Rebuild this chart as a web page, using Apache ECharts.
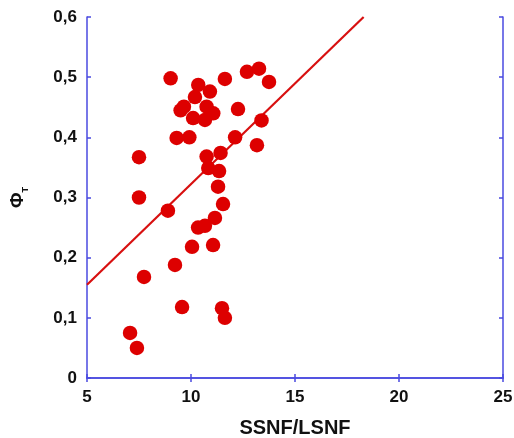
<!DOCTYPE html>
<html><head><meta charset="utf-8">
<script src="https://cdn.jsdelivr.net/npm/echarts@6/dist/echarts.min.js"></script>
<style>html,body{margin:0;padding:0;background:#fff}#c{width:514px;height:438px}</style>
</head><body><div id="c"></div>
<script>
// Data
var ratioX = [9.02,10.35,10.91,11.63,12.69,13.27,13.75,9.66,9.50,10.19,10.75,11.07,10.10,10.67,12.26,9.31,9.92,12.12,13.39,13.17,7.50,10.75,11.42,10.83,11.35,11.30,7.50,11.54,8.89,11.15,10.34,10.67,10.05,11.06,9.23,7.74,9.57,11.49,11.63,7.07,7.40];
var phiT   = [0.498,0.487,0.476,0.497,0.509,0.514,0.492,0.451,0.445,0.467,0.451,0.440,0.432,0.429,0.447,0.399,0.400,0.400,0.428,0.387,0.367,0.368,0.374,0.349,0.344,0.318,0.300,0.289,0.278,0.266,0.250,0.253,0.218,0.221,0.188,0.168,0.118,0.116,0.100,0.075,0.050];
var fitX = [5, 18.3];
var fitY = [0.155, 0.6];
var xTicks = [5,10,15,20,25];
var yTicks = ['0','0,1','0,2','0,3','0,4','0,5','0,6'];

var pts = ratioX.map(function(x,i){return [x, phiT[i]];});
var fit = fitX.map(function(x,i){return [x, fitY[i]];});
var axisCol = '#4a4ae0';
var font = '"Liberation Sans", Arial, sans-serif';
var chart = echarts.init(document.getElementById('c'), null, {renderer:'canvas'});
chart.setOption({
  animation:false,
  backgroundColor:'#fff',
  grid:{left:87, right:11, top:17, bottom:60, containLabel:false, outerBoundsMode:'none'},
  xAxis:[{
    type:'value', min:5, max:25, interval:5, position:'bottom',
    axisLine:{lineStyle:{color:axisCol,width:1.5}},
    axisTick:{inside:true,length:4,lineStyle:{color:axisCol,width:1.5}},
    splitLine:{show:false},
    axisLabel:{color:'#111',fontWeight:'bold',fontSize:17,fontFamily:font,margin:11,
      formatter:function(v){return xTicks.indexOf(v)>=0?String(v):'';}},
    name:'SSNF/LSNF', nameLocation:'middle', nameGap:40,
    nameTextStyle:{color:'#111',fontWeight:'bold',fontSize:20,fontFamily:font}
  },{
    type:'value', min:5, max:25, interval:5, position:'top',
    axisLine:{lineStyle:{color:axisCol,width:1.5}},
    axisTick:{inside:true,length:4,lineStyle:{color:axisCol,width:1.5}},
    axisLabel:{show:false}, splitLine:{show:false}
  }],
  yAxis:[{
    type:'value', min:0, max:0.6, interval:0.1, position:'left',
    axisLine:{show:true,lineStyle:{color:axisCol,width:1.5}},
    axisTick:{show:true,inside:true,length:4,lineStyle:{color:axisCol,width:1.5}},
    splitLine:{show:false},
    axisLabel:{color:'#111',fontWeight:'bold',fontSize:17,fontFamily:font,margin:10,
      formatter:function(v){return yTicks[Math.round(v*10)];}},
    name:'{a|\u03A6}{b|T}', nameLocation:'middle', nameGap:57, nameRotate:90,
    nameTextStyle:{rich:{
      a:{color:'#111',fontWeight:'bold',fontSize:19,fontFamily:font},
      b:{color:'#111',fontWeight:'bold',fontSize:9,fontFamily:font,padding:[16,0,0,0]}
    }}
  },{
    type:'value', min:0, max:0.6, interval:0.1, position:'right',
    axisLine:{show:true,lineStyle:{color:axisCol,width:1.5}},
    axisTick:{show:true,inside:true,length:4,lineStyle:{color:axisCol,width:1.5}},
    axisLabel:{show:false}, splitLine:{show:false}
  }],
  series:[{
    type:'line', data:fit, showSymbol:false, symbol:'none',
    lineStyle:{color:'#d81010',width:2.2}, z:2
  },{
    type:'scatter', data:pts, symbolSize:14.5,
    itemStyle:{color:'#dd0000',opacity:1}, z:3
  }]
});
</script></body></html>
